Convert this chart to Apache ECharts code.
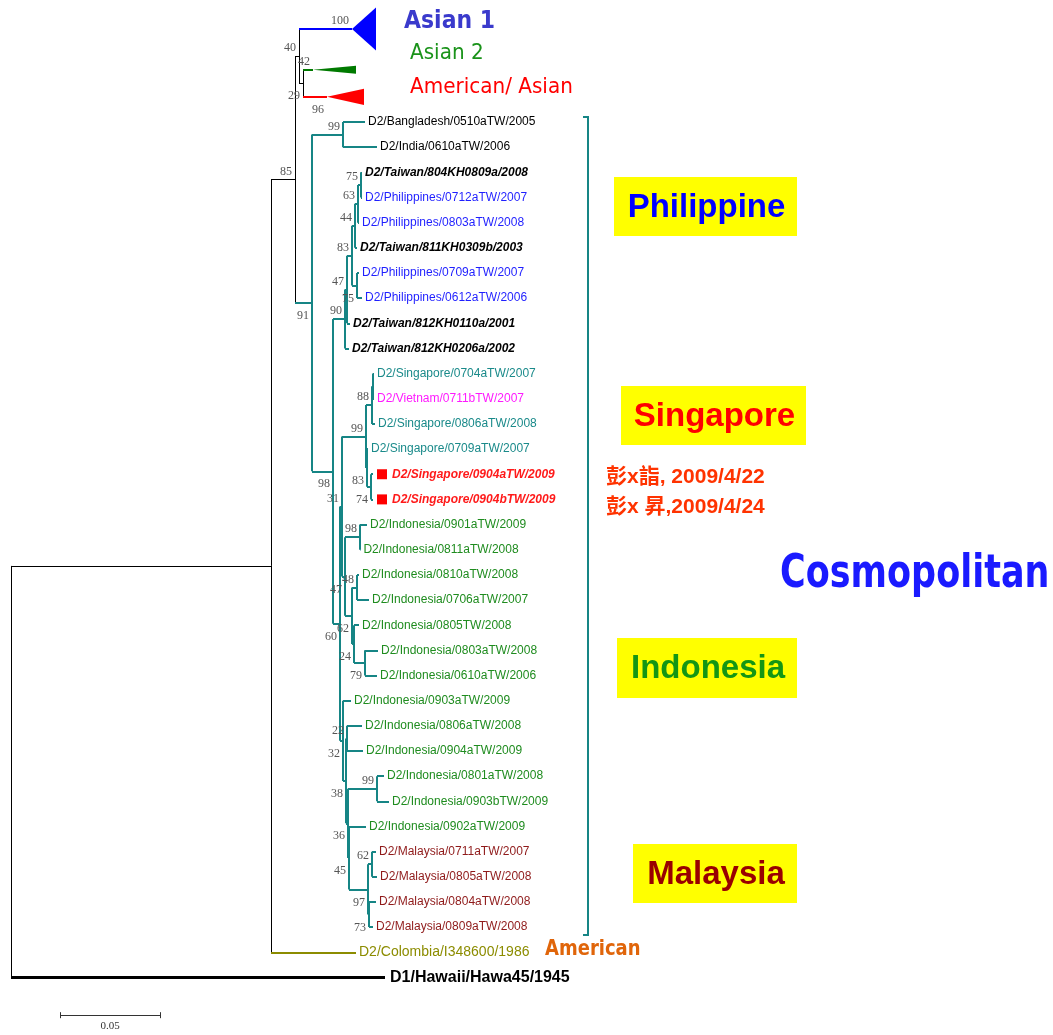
<!DOCTYPE html>
<html>
<head>
<meta charset="utf-8">
<style>
  html, body { margin: 0; padding: 0; background: #ffffff; }
  #chart { width: 1053px; height: 1035px; }
</style>
<script src="https://cdn.jsdelivr.net/npm/echarts@6/dist/echarts.min.js"></script>
</head>
<body>
<div id="chart"></div>
<script>
// ---------------- Tree data (branch lengths in substitutions per site) ----------------

// Internal nodes: [id, parent, branch length, bootstrap]
const internalNodes = [
  ['root', null, 0, null],
  ['A', 'root', 0.1300, null],
  ['B', 'A', 0.0120, 85],
  ['C', 'B', 0.0020, 40],
  ['F', 'C', 0.0020, 29],
  ['D', 'B', 0.0085, 91],
  ['G', 'D', 0.0155, 99],
  ['H', 'D', 0.0105, 98],
  ['I', 'H', 0.0060, 90],
  ['AQ', 'I', 0.0010, 47],
  ['AR', 'AQ', 0.0025, 83],
  ['AO', 'AR', 0.0015, 44],
  ['AN', 'AO', 0.0015, 63],
  ['AM', 'AN', 0.0015, 75],
  ['AP', 'AR', 0.0025, 75],
  ['J', 'H', 0.0035, 60],
  ['X1', 'J', 0.0010, 31],
  ['M', 'X1', 0.0120, 99],
  ['L', 'M', 0.0030, 88],
  ['L1', 'L', 0.0005, null],
  ['Q', 'M', 0.0005, 83],
  ['P', 'Q', 0.0020, 74],
  ['AF', 'X1', 0.0015, 47],
  ['Z', 'AF', 0.0075, 98],
  ['AE', 'AF', 0.0035, 62],
  ['AB', 'AE', 0.0025, 48],
  ['AD', 'AE', 0.0010, 24],
  ['AC', 'AD', 0.0055, 79],
  ['AL', 'J', 0.0015, 32],
  ['AI', 'AL', 0.0015, 38],
  ['AH', 'AI', 0.0005, 22],
  ['AJ', 'AI', 0.0010, 36],
  ['AG', 'AJ', 0.0145, 99],
  ['AK', 'AJ', 0.0005, 45],
  ['U', 'AK', 0.0095, 97],
  ['T', 'U', 0.0020, 62],
  ['V', 'U', 0.0005, 73]
];

// Leaves, top to bottom: [name, parent, branch length, group, bootstrap]
const leaves = [
  ['Asian 1', 'C', 0.0265, 'asian1', 100],
  ['Asian 2', 'F', 0.0050, 'asian2', 42],
  ['American/Asian', 'F', 0.0120, 'amAsian', 96],
  ['D2/Bangladesh/0510aTW/2005', 'G', 0.0110, 'other'],
  ['D2/India/0610aTW/2006', 'G', 0.0170, 'other'],
  ['D2/Taiwan/804KH0809a/2008', 'AM', 0.0005, 'taiwan'],
  ['D2/Philippines/0712aTW/2007', 'AM', 0.0005, 'philippines'],
  ['D2/Philippines/0803aTW/2008', 'AN', 0.0005, 'philippines'],
  ['D2/Taiwan/811KH0309b/2003', 'AO', 0.0010, 'taiwan'],
  ['D2/Philippines/0709aTW/2007', 'AP', 0.0010, 'philippines'],
  ['D2/Philippines/0612aTW/2006', 'AP', 0.0025, 'philippines'],
  ['D2/Taiwan/812KH0110a/2001', 'AQ', 0.0015, 'taiwan'],
  ['D2/Taiwan/812KH0206a/2002', 'I', 0.0020, 'taiwan'],
  ['D2/Singapore/0704aTW/2007', 'L1', 0.0005, 'singapore'],
  ['D2/Vietnam/0711bTW/2007', 'L1', 0.0005, 'vietnam'],
  ['D2/Singapore/0806aTW/2008', 'L', 0.0015, 'singapore'],
  ['D2/Singapore/0709aTW/2007', 'Q', 0.0005, 'singapore'],
  ['D2/Singapore/0904aTW/2009', 'P', 0.0010, 'imported'],
  ['D2/Singapore/0904bTW/2009', 'P', 0.0010, 'imported'],
  ['D2/Indonesia/0901aTW/2009', 'Z', 0.0035, 'indonesia'],
  ['D2/Indonesia/0811aTW/2008', 'Z', 0.0002, 'indonesia'],
  ['D2/Indonesia/0810aTW/2008', 'AB', 0.0010, 'indonesia'],
  ['D2/Indonesia/0706aTW/2007', 'AB', 0.0060, 'indonesia'],
  ['D2/Indonesia/0805TW/2008', 'AD', 0.0025, 'indonesia'],
  ['D2/Indonesia/0803aTW/2008', 'AC', 0.0065, 'indonesia'],
  ['D2/Indonesia/0610aTW/2006', 'AC', 0.0060, 'indonesia'],
  ['D2/Indonesia/0903aTW/2009', 'AL', 0.0040, 'indonesia'],
  ['D2/Indonesia/0806aTW/2008', 'AH', 0.0075, 'indonesia'],
  ['D2/Indonesia/0904aTW/2009', 'AH', 0.0080, 'indonesia'],
  ['D2/Indonesia/0801aTW/2008', 'AG', 0.0035, 'indonesia'],
  ['D2/Indonesia/0903bTW/2009', 'AG', 0.0060, 'indonesia'],
  ['D2/Indonesia/0902aTW/2009', 'AK', 0.0085, 'indonesia'],
  ['D2/Malaysia/0711aTW/2007', 'T', 0.0020, 'malaysia'],
  ['D2/Malaysia/0805aTW/2008', 'T', 0.0025, 'malaysia'],
  ['D2/Malaysia/0804aTW/2008', 'V', 0.0035, 'malaysia'],
  ['D2/Malaysia/0809aTW/2008', 'V', 0.0020, 'malaysia'],
  ['D2/Colombia/I348600/1986', 'A', 0.0425, 'american'],
  ['D1/Hawaii/Hawa45/1945', 'root', 0.1870, 'outgroup']
];

// Collapsed clades: depth of the triangle (substitutions) and its height (rows)
const collapsedDepth = { 'Asian 1': 0.0120, 'Asian 2': 0.0215, 'American/Asian': 0.0185 };
const collapsedSpread = { 'Asian 1': 1.71, 'Asian 2': 0.32, 'American/Asian': 0.64 };

// Bootstrap values printed under the branch instead of above it
const supportBelow = ['American/Asian', 'F', 'D', 'AP', 'H', 'J', 'AF', 'AE', 'AD', 'AC',
  'AL', 'AI', 'AJ', 'AK', 'U', 'V', 'Q', 'P'];

const scaleBarLength = 0.05;
const scaleBarLabel = '0.05';

// ---------------- Layout ----------------
const W = 1053, H = 1035;
const PX_PER_UNIT = 2000;   // horizontal pixels per substitution/site
const ROOT_PX = 11;         // root position from the left edge
const ROW_PX = 25.16;       // vertical spacing of leaves
const FIRST_LEAF_PX = 122;  // first uncollapsed leaf

const TEAL = '#168585';

const nodes = {};
internalNodes.forEach(([id, parent, len, support]) => {
  nodes[id] = { id, parent, len, support, children: [], leaf: false };
});
leaves.forEach(([id, parent, len, group, support]) => {
  nodes[id] = { id, parent, len, group, support, children: [], leaf: true };
});
Object.values(nodes).forEach(n => { if (n.parent) nodes[n.parent].children.push(n); });

(function setX(n, x) { n.x = x; n.children.forEach(c => setX(c, x + c.len)); })(nodes.root, 0);

let row = 0, prevSpread = 0;
leaves.forEach(([id], i) => {
  const s = collapsedSpread[id] || 0;
  if (i > 0) row += Math.max(1, (prevSpread + s) / 2 + 0.6);
  nodes[id].y = row;
  prevSpread = s;
});
(function setY(n) {
  if (n.leaf) return n.y;
  const ys = n.children.map(setY);
  n.y = (Math.min(...ys) + Math.max(...ys)) / 2;
  return n.y;
})(nodes.root);

function inSubtree(n, rootId) {
  for (let c = n; c; c = c.parent ? nodes[c.parent] : null) if (c.id === rootId) return true;
  return false;
}
function branchStyle(n) {
  if (n.id === 'Asian 1') return { color: '#0000ff', width: 2 };
  if (n.id === 'Asian 2') return { color: '#007a00', width: 2 };
  if (n.id === 'American/Asian') return { color: '#ff0000', width: 2 };
  if (n.group === 'american') return { color: '#8c8c00', width: 2 };
  if (n.group === 'outgroup') return { color: '#000000', width: 3 };
  if (inSubtree(n, 'D')) return { color: TEAL, width: 2 };
  return { color: '#000000', width: 1 };
}

const firstLeaf = nodes['D2/Bangladesh/0510aTW/2005'];
const yMin = firstLeaf.y - FIRST_LEAF_PX / ROW_PX;
const yMax = yMin + H / ROW_PX;
const xMin = -ROOT_PX / PX_PER_UNIT;
const xMax = xMin + W / PX_PER_UNIT;

// Branch segments
const branchLines = [];
Object.values(nodes).forEach(n => {
  if (n.parent) {
    const p = nodes[n.parent];
    const st = branchStyle(n);
    branchLines.push({ coords: [[p.x, n.y], [n.x, n.y]], lineStyle: { color: st.color, width: st.width, opacity: 1 } });
  }
  if (!n.leaf) {
    const ys = n.children.map(c => c.y);
    const st = inSubtree(n, 'D') ? { color: TEAL, width: 2 } : { color: '#000000', width: 1 };
    branchLines.push({ coords: [[n.x, Math.min(...ys)], [n.x, Math.max(...ys)]], lineStyle: { color: st.color, width: st.width, opacity: 1 } });
  }
});

const collapsed = leaves.filter(l => collapsedDepth[l[0]] !== undefined).map(l => nodes[l[0]]);
const tips = leaves.filter(l => collapsedDepth[l[0]] === undefined).map(l => nodes[l[0]]);
const supported = Object.values(nodes).filter(n => n.support != null);

const LABEL_FONT = '"Liberation Sans", Arial, sans-serif';
const groupStyle = {
  other: { fill: '#000000', font: '12px ' + LABEL_FONT },
  taiwan: { fill: '#000000', font: 'italic bold 12px ' + LABEL_FONT },
  philippines: { fill: '#1f1fff', font: '12px ' + LABEL_FONT },
  singapore: { fill: '#1a8a8a', font: '12px ' + LABEL_FONT },
  vietnam: { fill: '#ff1aff', font: '12px ' + LABEL_FONT },
  imported: { fill: '#ff1a1a', font: 'italic bold 12px ' + LABEL_FONT, marker: true },
  indonesia: { fill: '#1f8c1f', font: '12px ' + LABEL_FONT },
  malaysia: { fill: '#8f1a1a', font: '12px ' + LABEL_FONT },
  american: { fill: '#8c8c00', font: '14px ' + LABEL_FONT },
  outgroup: { fill: '#000000', font: 'bold 16px ' + LABEL_FONT }
};
const collapsedColor = { 'Asian 1': '#0000ff', 'Asian 2': '#007a00', 'American/Asian': '#ff0000' };

// Scale bar placed below the last leaf
const lastLeaf = nodes[leaves[leaves.length - 1][0]];
const barY = lastLeaf.y + 1.5;
const barX0 = 0.0245;
const tickH = 3 / ROW_PX;
const scaleLines = [
  [[barX0, barY], [barX0 + scaleBarLength, barY]],
  [[barX0, barY - tickH], [barX0, barY + tickH]],
  [[barX0 + scaleBarLength, barY - tickH], [barX0 + scaleBarLength, barY + tickH]]
].map(c => ({ coords: c, lineStyle: { color: '#333333', width: 1, opacity: 1 } }));

function txt(text, x, y, font, fill, align, vAlign, extra) {
  const el = {
    type: 'text', x: x, y: y,
    style: { text: text, font: font, fill: fill, textAlign: align || 'left', align: align || 'left',
             textVerticalAlign: vAlign || 'middle', verticalAlign: vAlign || 'middle' }
  };
  return Object.assign(el, extra || {});
}

function yellowBox(label, x, y, w, h, color) {
  return {
    type: 'group',
    children: [
      { type: 'rect', shape: { x: x, y: y, width: w, height: h }, style: { fill: '#ffff00' } },
      txt(label, x + w / 2 + 1, y + h / 2 + 1, 'bold 33px ' + LABEL_FONT, color, 'center', 'middle')
    ]
  };
}

const CJK = 'bold 21px "Liberation Sans", "Noto Sans CJK TC", sans-serif';
const COMIC = '"Comic Sans MS", "DejaVu Sans", sans-serif';

const chart = echarts.init(document.getElementById('chart'), null, { renderer: 'canvas', width: W, height: H });
chart.setOption({
  animation: false,
  backgroundColor: '#ffffff',
  grid: { left: 0, right: 0, top: 0, bottom: 0 },
  xAxis: { type: 'value', min: xMin, max: xMax, show: false },
  yAxis: { type: 'value', min: yMin, max: yMax, inverse: true, show: false },
  series: [
    {
      type: 'lines', coordinateSystem: 'cartesian2d', silent: true,
      data: branchLines, lineStyle: { opacity: 1 }, z: 2
    },
    {
      type: 'custom', coordinateSystem: 'cartesian2d', silent: true, z: 3,
      data: collapsed.map(n => [n.x, n.y]),
      encode: { x: 0, y: 1 },
      renderItem: function (params, api) {
        const n = collapsed[params.dataIndex];
        const d = collapsedDepth[n.id], s = collapsedSpread[n.id] / 2;
        const apex = api.coord([n.x, n.y]);
        const top = api.coord([n.x + d, n.y - s]);
        const bot = api.coord([n.x + d, n.y + s]);
        return { type: 'polygon', shape: { points: [apex, top, bot] }, style: { fill: collapsedColor[n.id] } };
      }
    },
    {
      type: 'custom', coordinateSystem: 'cartesian2d', silent: true, z: 4,
      data: tips.map(n => [n.x, n.y]),
      encode: { x: 0, y: 1 },
      renderItem: function (params, api) {
        const n = tips[params.dataIndex];
        const st = groupStyle[n.group];
        const p = api.coord([n.x, n.y]);
        const children = [];
        let gap = n.group === 'outgroup' ? 5 : 3;
        if (st.marker) {
          children.push({ type: 'rect', shape: { x: p[0] + 4, y: p[1] - 5, width: 10, height: 10 }, style: { fill: '#ff0000' } });
          gap = 19;
        }
        children.push(txt(n.id, p[0] + gap, p[1], st.font, st.fill, 'left', 'middle'));
        return { type: 'group', children: children };
      }
    },
    {
      type: 'custom', coordinateSystem: 'cartesian2d', silent: true, z: 4,
      data: supported.map(n => [n.x, n.y]),
      encode: { x: 0, y: 1 },
      renderItem: function (params, api) {
        const n = supported[params.dataIndex];
        const p = api.coord([n.x, n.y]);
        const below = supportBelow.indexOf(n.id) >= 0;
        return txt(String(n.support), p[0] - 3, p[1] + (below ? 13 : -8),
          '12px "Liberation Serif", "Times New Roman", serif', '#555555', 'right', 'middle');
      }
    },
    {
      type: 'lines', coordinateSystem: 'cartesian2d', silent: true,
      data: scaleLines, lineStyle: { opacity: 1 }, z: 2
    },
    {
      type: 'custom', coordinateSystem: 'cartesian2d', silent: true, z: 4,
      data: [[barX0 + scaleBarLength / 2, barY]],
      encode: { x: 0, y: 1 },
      renderItem: function (params, api) {
        const p = api.coord([barX0 + scaleBarLength / 2, barY]);
        return txt(scaleBarLabel, p[0], p[1] + 11, '11px "Liberation Serif", serif', '#333333', 'center', 'middle');
      }
    }
  ],
  graphic: [
    txt('Asian 1', 404, 21, 'bold 22px ' + COMIC, '#3a3acc', 'left', 'middle', { scaleY: 1.15 }),
    txt('Asian 2', 410, 53, '20px ' + COMIC, '#1a931a', 'left', 'middle', { scaleY: 1.1 }),
    txt('American/ Asian', 410, 87, '20px ' + COMIC, '#ff0000', 'left', 'middle', { scaleY: 1.1 }),
    txt('Cosmopolitan', 780, 575, 'bold 35px ' + COMIC, '#1a1aff', 'left', 'middle', { scaleY: 1.3 }),
    txt('American', 545, 950, 'bold 18px ' + COMIC, '#e0650a', 'left', 'middle', { scaleY: 1.15 }),
    yellowBox('Philippine', 614, 177, 183, 59, '#0000ff'),
    yellowBox('Singapore', 621, 386, 185, 59, '#ff0000'),
    yellowBox('Indonesia', 617, 638, 180, 60, '#149614'),
    yellowBox('Malaysia', 633, 844, 164, 59, '#990000'),
    txt('彭x詣, 2009/4/22', 606, 477, CJK, '#ff3300'),
    txt('彭x 昇,2009/4/24', 606, 507, CJK, '#ff3300'),
    {
      type: 'polyline',
      shape: { points: [[583, 117], [588, 117], [588, 935], [583, 935]] },
      style: { stroke: TEAL, lineWidth: 2, fill: null }
    }
  ]
});
</script>
</body>
</html>
